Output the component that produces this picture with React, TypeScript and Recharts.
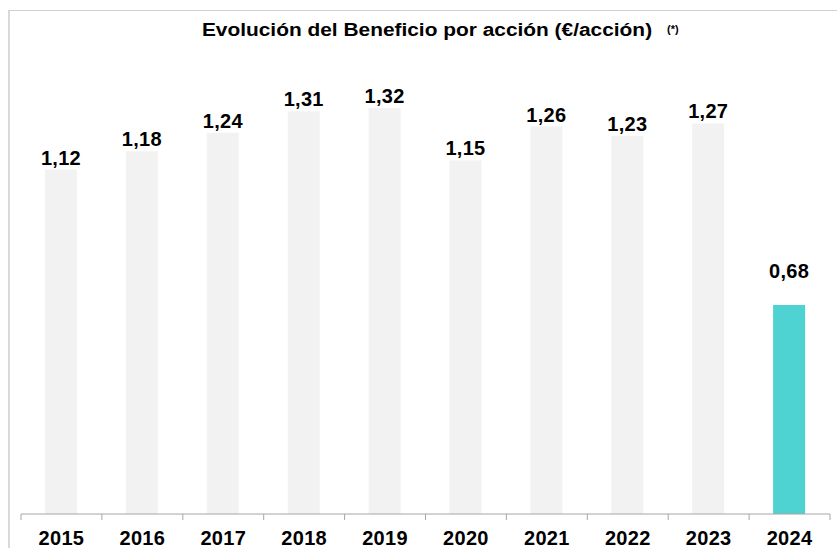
import React from "react";
import { BarChart, Bar, XAxis, YAxis, LabelList, Cell } from "recharts";

const years = ["2015", "2016", "2017", "2018", "2019", "2020", "2021", "2022", "2023", "2024"];
const eps = [1.12, 1.18, 1.24, 1.31, 1.32, 1.15, 1.26, 1.23, 1.27, 0.68];
const highlightYear = "2024";
const titleText = "Evolución del Beneficio por acción (€/acción)";
const noteText = "(*)";

const data = years.map((y, i) => ({ year: y, value: eps[i] }));

const W = 837;
const H = 548;
const M = { top: 22, right: 7, left: 21, bottom: 4 };
const BAND = (W - M.left - M.right) / years.length;
const TICK_SIZE = 6;
const TICK_MARGIN = 2;
const FONT = "'Liberation Sans', Arial, sans-serif";

const YearTick = (props: any) => {
  const { x, y, payload, index } = props;
  const axisY = y - TICK_SIZE - TICK_MARGIN;
  const isLast = index === years.length - 1;
  return (
    <g>
      <line x1={x - BAND / 2} x2={x - BAND / 2} y1={axisY} y2={axisY + TICK_SIZE} stroke="#a6a6a6" />
      {isLast && (
        <line x1={x + BAND / 2} x2={x + BAND / 2} y1={axisY} y2={axisY + TICK_SIZE} stroke="#a6a6a6" />
      )}
      <text
        x={x}
        y={axisY + 31}
        textAnchor="middle"
        fontFamily={FONT}
        fontWeight="bold"
        fontSize={20}
        letterSpacing={0.3}
        fill="#000"
      >
        {payload.value}
      </text>
    </g>
  );
};

const fmt = (v: any) => String(Number(v).toFixed(2)).replace(".", ",");

const ValueLabel = (props: any) => {
  const { x, y, width, value, index } = props;
  const isHighlight = years[index] === highlightYear;
  const gap = isHighlight ? 27 : 5;
  return (
    <text
      x={Number(x) + Number(width) / 2}
      y={Number(y) - gap}
      textAnchor="middle"
      fontFamily={FONT}
      fontWeight="bold"
      fontSize={20}
      letterSpacing={0.3}
      fill="#000"
    >
      {fmt(value)}
    </text>
  );
};

export default function App() {
  return (
    <div style={{ position: "absolute", left: 0, top: 0, width: W, height: H, background: "#fff", overflow: "hidden" }}>
      <div
        style={{
          position: "absolute",
          left: 8,
          top: 10,
          width: W,
          height: H,
          borderLeft: "2px solid #d9d9d9",
          borderTop: "1px solid #d0d0d0",
          boxSizing: "border-box",
        }}
      />
      <BarChart width={W} height={H} data={data} margin={M} style={{ position: "absolute", left: 0, top: 0 }}>
        <YAxis hide domain={[0, 1.6]} />
        <XAxis
          dataKey="year"
          height={30}
          interval={0}
          tickLine={false}
          tickSize={TICK_SIZE}
          tickMargin={TICK_MARGIN}
          axisLine={{ stroke: "#a6a6a6" }}
          tick={<YearTick />}
        />
        <Bar dataKey="value" barSize={32} isAnimationActive={false}>
          {data.map((d) => (
            <Cell key={d.year} fill={d.year === highlightYear ? "#4fd2d2" : "#f2f2f2"} />
          ))}
          <LabelList dataKey="value" content={<ValueLabel />} />
        </Bar>
      </BarChart>
      <div
        style={{
          position: "absolute",
          left: 0,
          top: 20,
          width: 854,
          textAlign: "center",
          fontFamily: FONT,
          fontWeight: "bold",
          fontSize: 18,
          lineHeight: "20px",
          color: "#000",
          transform: "scaleX(1.16)",
          transformOrigin: "427px 0",
          whiteSpace: "nowrap",
        }}
      >
        {titleText}
      </div>
      <div
        style={{
          position: "absolute",
          left: 667,
          top: 23,
          fontFamily: FONT,
          fontWeight: "bold",
          fontSize: 11,
          lineHeight: "12px",
          color: "#000",
          whiteSpace: "nowrap",
        }}
      >
        {noteText}
      </div>
    </div>
  );
}
